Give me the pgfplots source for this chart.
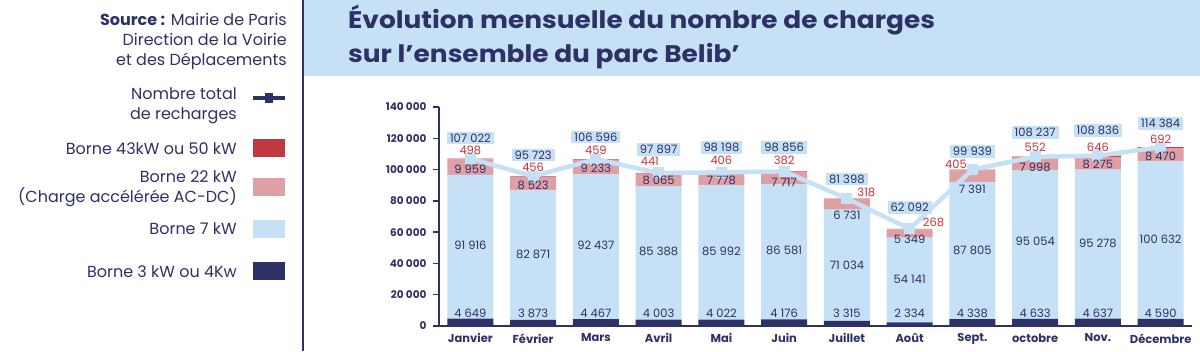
\documentclass[border=0pt]{standalone}
\usepackage{pgfplots}
\pgfplotsset{compat=1.18}
\usepackage{fontspec}
\setmainfont{Poppins}
\definecolor{navy}{HTML}{2D3166}
\definecolor{lblue}{HTML}{C6E1F6}
\definecolor{pinkb}{HTML}{DFA0A5}
\definecolor{redb}{HTML}{C1393F}
\definecolor{redt}{HTML}{C8323A}
\begin{document}
\begin{tikzpicture}[x=1pt,y=1pt]
\path[use as bounding box] (0,0) rectangle (1200,351);
% banner
\fill[lblue] (304,275) rectangle (1200,351);
\draw[navy, line width=2.5pt] (303,0) -- (303,351);
\node[anchor=base west, inner sep=0, text=navy, font=\bfseries\fontsize{24}{28}\selectfont] at (348,322) {\scalebox{1.1}[1]{Évolution mensuelle du nombre de charges}};
\node[anchor=base west, inner sep=0, text=navy, font=\bfseries\fontsize{24}{28}\selectfont] at (348,288) {\scalebox{1.1}[1]{sur l’ensemble du parc Belib’}};
% source
\begin{scope}[every node/.style={anchor=base east, inner sep=0, text=navy, font=\fontsize{16}{19}\selectfont}]
\node at (287,325) {\textbf{Source :} Mairie de Paris};
\node at (287,305) {Direction de la Voirie};
\node at (287,285) {et des Déplacements};
\node at (237,251) {Nombre total};
\node at (237,231) {de recharges};
\node at (237,196) {Borne 43kW ou 50 kW};
\node at (237,168) {Borne 22 kW};
\node at (237,148) {(Charge accélérée AC-DC)};
\node at (237,116) {Borne 7 kW};
\node at (237,74) {Borne 3 kW ou 4Kw};
\end{scope}
% legend keys
\draw[navy, line width=4pt] (253,253) -- (285,253);
\fill[navy] (265,248) rectangle (273,258);
\fill[redb] (253,194) rectangle (285,212);
\fill[pinkb] (253,155) rectangle (285,173);
\fill[lblue] (253,113) rectangle (285,131);
\fill[navy] (253,71) rectangle (285,89);

\begin{axis}[
  at={(439pt,25pt)}, anchor=south west, scale only axis,
  width=753pt, height=219pt,
  xmin=-0.5, xmax=11.5, ymin=0, ymax=140000,
  ybar stacked, bar width=46pt,
  axis x line*=bottom, axis y line*=left,
  axis line style={navy, line width=1.3pt, -},
  scaled y ticks=false,
  ytick={0,20000,40000,60000,80000,100000,120000,140000},
  yticklabels={0,20~000,40~000,60~000,80~000,100~000,120~000,140~000},
  ytick style={navy, line width=1.3pt},
  major tick length=6pt, tick align=outside,
  yticklabel style={font=\bfseries\fontsize{10.5}{12}\selectfont, text=navy, xshift=-3pt},
  xtick={0,...,11},
  xtick style={draw=none},
  xticklabels={Janvier,Février,Mars,Avril,Mai,Juin,Juillet,Août,Sept.,octobre,Nov.,Décembre},
  xticklabel style={font=\bfseries\fontsize{11.5}{13}\selectfont, text=navy, yshift=2pt},
]
\addplot[fill=navy, draw=none] coordinates {(0,4649)(1,3873)(2,4467)(3,4003)(4,4022)(5,4176)(6,3315)(7,2334)(8,4338)(9,4633)(10,4637)(11,4590)};
\addplot[fill=lblue, draw=none] coordinates {(0,91916)(1,82871)(2,92437)(3,85388)(4,85992)(5,86581)(6,71034)(7,54141)(8,87805)(9,95054)(10,95278)(11,100632)};
\addplot[fill=pinkb, draw=none] coordinates {(0,9959)(1,8523)(2,9233)(3,8065)(4,7778)(5,7717)(6,6731)(7,5349)(8,7391)(9,7998)(10,8275)(11,8470)};
\addplot[fill=redb, draw=none] coordinates {(0,498)(1,456)(2,459)(3,441)(4,406)(5,382)(6,318)(7,268)(8,405)(9,552)(10,646)(11,692)};
\end{axis}

\begin{axis}[
  at={(439pt,25pt)}, anchor=south west, scale only axis,
  width=753pt, height=219pt,
  xmin=-0.5, xmax=11.5, ymin=0, ymax=140000,
  hide axis, clip=false,
]
\addplot[lblue, line width=4.5pt, mark=square*, mark size=5pt, mark options={fill=lblue, draw=lblue, line width=0pt}] coordinates {(0,107022)(1,95723)(2,106596)(3,97897)(4,98198)(5,98856)(6,81398)(7,62092)(8,99939)(9,108237)(10,108836)(11,114384)};
% 3 kW labels
\addplot[draw=none, mark=none, nodes near coords, point meta=explicit symbolic, nodes near coords style={anchor=center, text=navy, font=\fontsize{11.5}{13}\selectfont}] coordinates {(0,8000)[4~649](1,8000)[3~873](2,8000)[4~467](3,8000)[4~003](4,8000)[4~022](5,8000)[4~176](6,8000)[3~315](7,8000)[2~334](8,8000)[4~338](9,8000)[4~633](10,8000)[4~637](11,8000)[4~590]};
% 7 kW labels
\addplot[draw=none, mark=none, nodes near coords, point meta=explicit symbolic, nodes near coords style={anchor=center, text=navy, font=\fontsize{11.5}{13}\selectfont}] coordinates {(0,51400)[91~916](1,45800)[82~871](2,51400)[92~437](3,47500)[85~388](4,47500)[85~992](5,48200)[86~581](6,39000)[71~034](7,29800)[54~141](8,48200)[87~805](9,53900)[95~054](10,52900)[95~278](11,55600)[100~632]};
% 22 kW labels
\addplot[draw=none, mark=none, nodes near coords, point meta=explicit symbolic, nodes near coords style={anchor=center, text=navy, font=\fontsize{11.5}{13}\selectfont}] coordinates {(0,100400)[9~959](1,89700)[8~523](2,100800)[9~233](3,92900)[8~065](4,92900)[7~778](5,91800)[7~717](6,70500)[6~731](7,55600)[5~349](8,87400)[7~391](9,101200)[7~998](10,103000)[8~275](11,108200)[8~470]};
% 43 kW labels
\addplot[draw=none, mark=none, nodes near coords, point meta=explicit symbolic, nodes near coords style={anchor=center, text=redt, font=\fontsize{11.5}{13}\selectfont}] coordinates {(0,112500)[498](1,101500)[456](2,112500)[459](2.86,105000)[441](4,106000)[406](5,106000)[382](6.31,85200)[318](7.38,66000)[268](7.74,103600)[405](9,114200)[552](10,114200)[646](11,119600)[692]};
% totals
\addplot[draw=none, mark=none, nodes near coords, point meta=explicit symbolic, nodes near coords style={anchor=center, text=navy, fill=lblue, inner xsep=3pt, inner ysep=2pt, font=\fontsize{11.5}{13}\selectfont}] coordinates {(0,120200)[107~022](1,109300)[95~723](2,120800)[106~596](3,113000)[97~897](4,114000)[98~198](5,114300)[98~856](6,94000)[81~398](7,75900)[62~092](8,111400)[99~939](9,123600)[108~237](10,124900)[108~836](11,129400)[114~384]};
\end{axis}
\end{tikzpicture}
\end{document}
